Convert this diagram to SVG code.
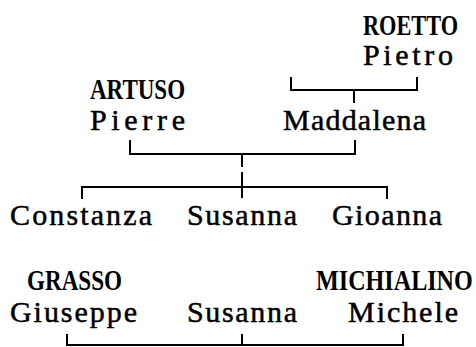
<svg xmlns="http://www.w3.org/2000/svg" width="476" height="347" viewBox="0 0 476 347">
  <style>
    .nm { font-family: "Liberation Serif", "Times New Roman", serif; font-size: 30px; fill: #000; stroke: #000; stroke-width: 0.5; }
    .sn { font-family: "Liberation Serif", "Times New Roman", serif; font-size: 30px; font-weight: bold; fill: #000; }
    .ln { stroke: #000; stroke-width: 2; fill: none; }
  </style>
  <rect width="476" height="347" fill="#fff"/>
  <g id="roetto-pietro">
    <text class="sn" transform="translate(363 35) scale(0.75 1)" textLength="126.7" lengthAdjust="spacingAndGlyphs">ROETTO</text>
    <text class="nm" x="363" y="65" textLength="90" lengthAdjust="spacing">Pietro</text>
  </g>
  <g id="artuso-pierre">
    <text class="sn" transform="translate(90 99) scale(0.75 1)" textLength="126.7" lengthAdjust="spacingAndGlyphs">ARTUSO</text>
    <text class="nm" x="90" y="130" textLength="95" lengthAdjust="spacing">Pierre</text>
  </g>
  <g id="maddalena">
    <text class="nm" x="283" y="130" textLength="143" lengthAdjust="spacing">Maddalena</text>
  </g>
  <g id="constanza">
    <text class="nm" x="10" y="225" textLength="142" lengthAdjust="spacing">Constanza</text>
  </g>
  <g id="susanna-1">
    <text class="nm" x="187" y="225" textLength="110" lengthAdjust="spacing">Susanna</text>
  </g>
  <g id="gioanna">
    <text class="nm" x="332" y="225" textLength="110" lengthAdjust="spacing">Gioanna</text>
  </g>
  <g id="grasso-giuseppe">
    <text class="sn" transform="translate(27 290) scale(0.75 1)" textLength="126.7" lengthAdjust="spacingAndGlyphs">GRASSO</text>
    <text class="nm" x="10" y="322" textLength="127" lengthAdjust="spacing">Giuseppe</text>
  </g>
  <g id="susanna-2">
    <text class="nm" x="187" y="322" textLength="110" lengthAdjust="spacing">Susanna</text>
  </g>
  <g id="michialino-michele">
    <text class="sn" transform="translate(316 290) scale(0.8 1)" textLength="196" lengthAdjust="spacingAndGlyphs">MICHIALINO</text>
    <text class="nm" x="348" y="322" textLength="110" lengthAdjust="spacing">Michele</text>
  </g>
  <g id="connectors">
    <path class="ln" d="M291 77 V90 H417 V77 M354 90 V103"/>
    <path class="ln" d="M130 140 V154 H355 V140 M242 154 V167 M242 172 V198"/>
    <path class="ln" d="M82 199 V187 H387 V199"/>
    <path class="ln" d="M67 334 V345 H403 V334 M242 334 V345"/>
  </g>
</svg>
